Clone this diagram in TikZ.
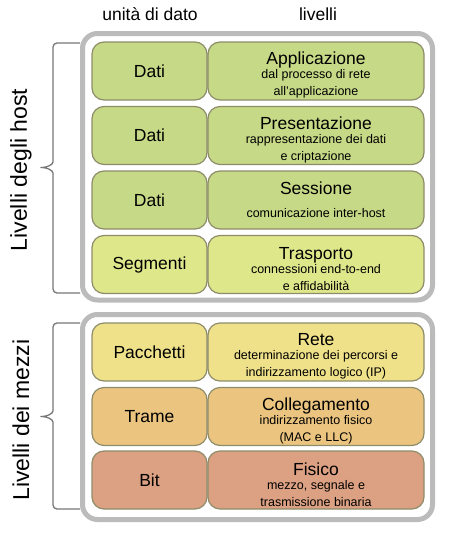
\documentclass[tikz,border=0pt]{standalone}
\usepackage{fontspec}
\setmainfont{Liberation Sans}
\usepackage{tikz}
\usetikzlibrary{positioning}

\definecolor{verde}{HTML}{C6D986}
\definecolor{verdechiaro}{HTML}{DFE78B}
\definecolor{giallo}{HTML}{EFE18A}
\definecolor{arancio}{HTML}{EBC580}
\definecolor{salmone}{HTML}{DCA182}
\definecolor{bordo}{HTML}{8E8C6A}
\definecolor{cornicegrigia}{HTML}{BBBBBB}
\definecolor{graffagrigia}{HTML}{777777}

\tikzset{
  unita/.style={draw=bordo, line width=1.2pt, rounded corners=12pt,
    minimum width=115pt, minimum height=58pt, inner sep=0pt,
    font=\fontsize{17.5}{18}\selectfont},
  livello/.style={draw=bordo, line width=1.2pt, rounded corners=12pt,
    minimum width=216pt, minimum height=58pt, inner sep=0pt, align=center,
    font=\fontsize{17.5}{18}\selectfont},
  cornice/.style={draw=cornicegrigia, line width=5pt, rounded corners=15pt},
  graffa/.style={draw=graffagrigia, line width=1.3pt},
  intestazione/.style={font=\fontsize{17.5}{18}\selectfont},
  gruppo/.style={rotate=90, font=\fontsize{23}{24}\selectfont}
}
\newcommand{\sotto}{\fontsize{12.5}{15}\selectfont}
\newcommand{\alto}{\rule{0pt}{21.5pt}}

\begin{document}
\begin{tikzpicture}[x=1pt, y=-1pt]
\useasboundingbox (0,0) rectangle (458,544);
%
\node(hunita) at (150,14) [intestazione] {unità di dato};
\node(hlivelli) at (318,14) [intestazione] {livelli};
%
\draw[cornice] (82.5,33.5) rectangle (432.5,300);
\draw[cornice] (82.5,314.5) rectangle (432.5,519.5);
%
\node(dati1) at (149.5,71) [unita, fill=verde] {Dati};
\node(app) at (316,71) [livello, fill=verde] {\alto Applicazione\\[-4pt]
  \sotto dal processo di rete\\[-1pt] \sotto all'applicazione};
%
\node(dati2) at (149.5,135.5) [unita, fill=verde] {Dati};
\node(pres) at (316,135.5) [livello, fill=verde] {\alto Presentazione\\[-4pt]
  \sotto rappresentazione dei dati\\[-1pt] \sotto e criptazione};
%
\node(dati3) at (149.5,200) [unita, fill=verde] {Dati};
\node(sess) at (316,200) [livello, fill=verde] {Sessione\\[5pt]
  \sotto comunicazione inter-host};
%
\node(segm) at (149.5,264.5) [unita, fill=verdechiaro] {Segmenti};
\node(trasp) at (316,264.5) [livello, fill=verdechiaro] {\alto Trasporto\\[-4pt]
  \sotto connessioni end-to-end\\[-1pt] \sotto e affidabilità};
%
\node(pacch) at (149.5,352) [unita, fill=giallo] {Pacchetti};
\node(rete) at (316,352) [livello, fill=giallo] {\alto Rete\\[-4pt]
  \sotto determinazione dei percorsi e\\[-1pt] \sotto indirizzamento logico (IP)};
%
\node(trame) at (149.5,416.5) [unita, fill=arancio] {Trame};
\node(coll) at (316,416.5) [livello, fill=arancio] {\alto Collegamento\\[-4pt]
  \sotto indirizzamento fisico\\[-1pt] \sotto (MAC e LLC)};
%
\node(bit) at (149.5,480) [unita, fill=salmone] {Bit};
\node(fis) at (316,480) [livello, fill=salmone] {\alto Fisico\\[-4pt]
  \sotto mezzo, segnale e\\[-1pt] \sotto trasmissione binaria};
%
\draw[graffa, rounded corners=4pt] (80,43) -- (53,43) -- (53,158)
  .. controls (53,165) and (46,167.5) .. (38,167.5)
  .. controls (46,167.5) and (53,170) .. (53,177) -- (53,293) -- (80,293);
\node(host) at (21,170) [gruppo] {Livelli degli host};
%
\draw[graffa, rounded corners=4pt] (80,323) -- (53,323) -- (53,407)
  .. controls (53,414) and (46,416.5) .. (38,416.5)
  .. controls (46,416.5) and (53,419) .. (53,426) -- (53,509) -- (80,509);
\node(mezzi) at (21,420) [gruppo] {Livelli dei mezzi};
\end{tikzpicture}
\end{document}
